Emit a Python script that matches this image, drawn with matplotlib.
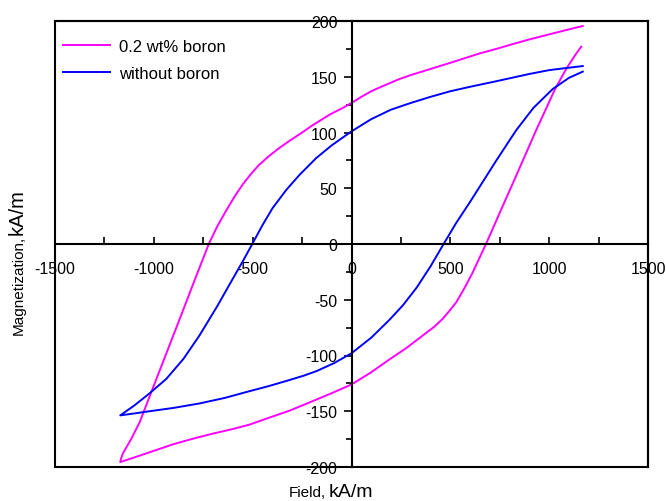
import numpy as np
import matplotlib.pyplot as plt
from matplotlib.patches import Rectangle

plt.rcParams['font.family'] = ['Liberation Sans', 'DejaVu Sans']
plt.rcParams['axes.unicode_minus'] = False

# 0.2 wt% boron loop: descending branch then ascending branch (field kA/m, magnetization kA/m)
boron_down_x = [1170, 1100, 1000, 900, 800, 733, 650, 500, 400, 300, 243, 150, 100, 50, 0,
                -50, -111, -197, -250, -314, -370, -420, -470, -510, -550, -590, -634, -680,
                -722, -786, -885, -988, -1072, -1115, -1157, -1165, -1170]
boron_down_y = [195.5, 192.5, 188, 183.5, 178.5, 175, 171, 162.5, 157, 151.5, 148, 141, 137, 132, 126.5,
                121.5, 116, 106.5, 100, 92.5, 85.5, 78.5, 70.5, 62.5, 53.5, 43, 30, 15.5,
                0, -29, -74.5, -121.5, -160, -175, -188, -192, -195.6]
boron_up_x = [-1170, -1100, -1000, -900, -800, -700, -602, -516, -420, -314, -177, -90, 0,
              100, 192, 280, 361, 420, 462, 500, 531, 570, 612, 650, 688, 760, 835, 934,
              1030, 1086, 1130, 1162]
boron_up_y = [-195.6, -191.5, -185.5, -179.5, -174.5, -170, -166, -162, -156, -149.5, -139.5, -133, -126,
              -115, -103.5, -93, -82, -74, -67, -59, -52, -40, -26, -11.5, 3, 32, 62, 102,
              139, 157, 169, 177]

# without boron loop
plain_down_x = [1170, 1002, 900, 733, 600, 500, 400, 300, 200, 100, 0, -100, -179, -263,
                -330, -400, -450, -502, -550, -600, -680, -769, -850, -937, -1022, -1100, -1170]
plain_down_y = [159.6, 156, 152.5, 146, 141, 137, 132, 126.5, 120.5, 112, 101, 88.5, 77, 62,
                48.5, 32, 17, 0, -15.5, -31, -56, -82, -103, -121, -134, -145, -153.7]
plain_up_x = [-1170, -1100, -1022, -900, -769, -640, -516, -420, -314, -240, -177, -90, 0,
              100, 192, 260, 330, 400, 466, 530, 597, 665, 733, 833, 920, 1018, 1100, 1170]
plain_up_y = [-153.7, -152, -150, -147, -143, -138, -132, -127.5, -122, -118, -114, -107, -98,
              -84, -68, -55, -39, -20, 0, 19, 37, 56, 75, 102, 122, 139, 149, 154.6]

fig = plt.figure(figsize=(6.66, 5.02), dpi=100)
ax = fig.add_axes([55/666, 34/502, 593/666, 446/502])

ax.plot(boron_down_x + boron_up_x, boron_down_y + boron_up_y, color='#ff00ff', lw=1.4,
        label='0.2 wt% boron')
ax.plot(plain_down_x + plain_up_x, plain_down_y + plain_up_y, color='#0000ff', lw=1.4,
        label='without boron')

ax.set_xlim(-1500, 1500)
ax.set_ylim(-200, 200)

# axes crossing at the origin, plus a closed frame
ax.spines['left'].set_position(('data', 0))
ax.spines['bottom'].set_position(('data', 0))
for s in ax.spines.values():
    s.set_linewidth(1.5)
ax.add_patch(Rectangle((0, 0), 1, 1, transform=ax.transAxes, fill=False,
                       lw=1.5, edgecolor='black', clip_on=False, zorder=3))

ax.set_xticks(np.arange(-1500, 1501, 500))
ax.set_xticks(np.arange(-1500, 1501, 250), minor=True)
ax.set_yticks(np.arange(-200, 201, 50))
ax.set_yticks(np.arange(-200, 201, 25), minor=True)
ax.tick_params(axis='x', which='both', direction='in', length=5, width=1.2,
               labelsize=11.5, pad=12, top=False)
ax.tick_params(axis='y', which='major', direction='out', length=6, width=1.2,
               labelsize=11.5, pad=4, right=False)
ax.tick_params(axis='y', which='minor', direction='out', length=4, width=1.2, right=False)

ax.legend(loc='upper left', bbox_to_anchor=(0.005, 0.971), frameon=False, fontsize=12,
          handlelength=2.8, handletextpad=0.55, labelspacing=0.7,
          borderpad=0.3, borderaxespad=0)

# axis titles with mixed font sizes, placed piece by piece
fig.canvas.draw()
r = fig.canvas.get_renderer()
t1 = fig.text(289/666, 5/502, 'Field,', fontsize=11, ha='left', va='baseline')
w1 = t1.get_window_extent(r).width
fig.text(289/666 + (w1 + 3)/666, 5/502, 'kA/m', fontsize=14, ha='left', va='baseline')

t2 = fig.text(23/666, (502-335)/502, 'Magnetization,', fontsize=11, rotation=90,
              rotation_mode='anchor', ha='left', va='baseline')
h2 = t2.get_window_extent(r).height
fig.text(23/666, (502-335)/502 + (h2 + 1)/502, 'kA/m', fontsize=14.5, rotation=90,
         rotation_mode='anchor', ha='left', va='baseline')

fig.savefig('out.png', dpi=100)
